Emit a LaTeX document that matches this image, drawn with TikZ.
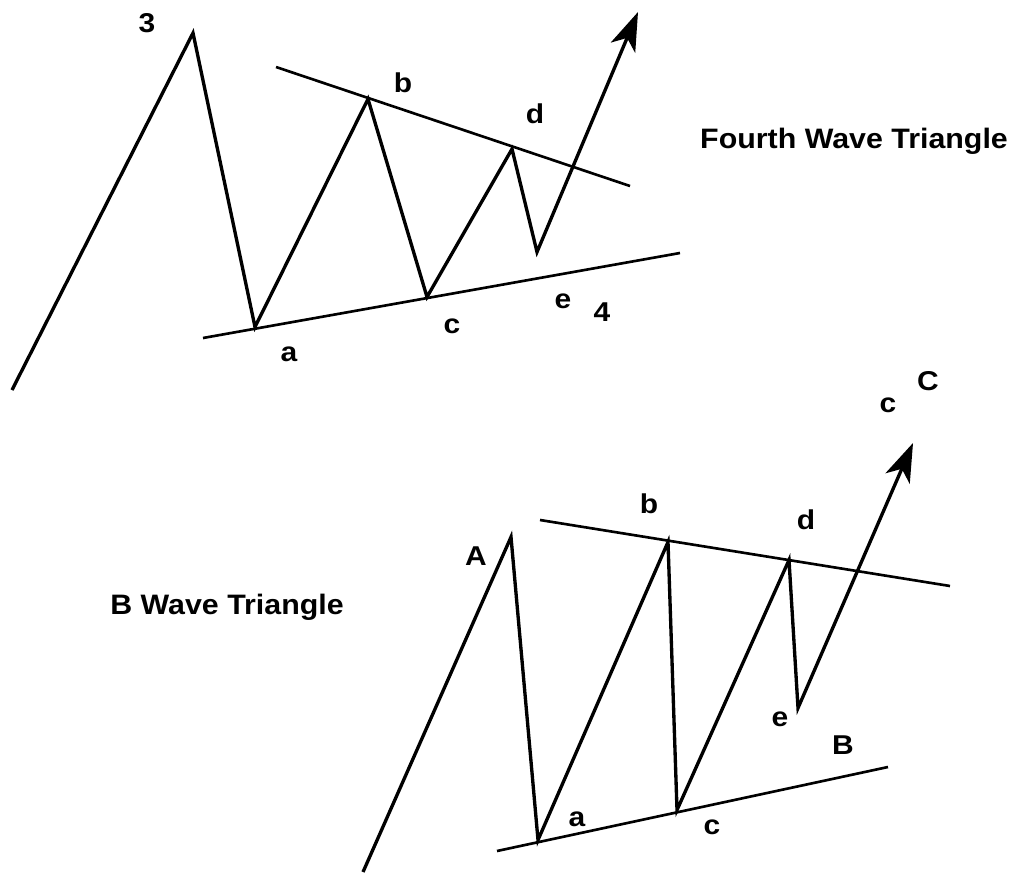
\documentclass[tikz,border=0pt]{standalone}
\usepackage{fontspec}
\setmainfont{Liberation Sans}
\usepackage{tikz}
\usetikzlibrary{arrows.meta}

\tikzset{
  wave/.style={line width=1.9pt, line join=miter},
  trend/.style={line width=1.5pt},
  lbl/.style={font=\bfseries\fontsize{15.5}{18}\selectfont, xscale=1.1, transform shape, inner sep=0pt},
  title/.style={font=\bfseries\fontsize{16}{19}\selectfont, xscale=1.08, transform shape, inner sep=0pt}
}

\begin{document}
\begin{tikzpicture}[x=0.02cm, y=-0.02cm]

  \useasboundingbox (0, 0) rectangle (1023, 872);

  % fourth wave triangle
  \coordinate (s1) at (12, 390);
  \coordinate (p3) at (193, 33);
  \coordinate (a1) at (255, 327);
  \coordinate (b1) at (368, 99);
  \coordinate (c1) at (427, 297);
  \coordinate (d1) at (512, 149);
  \coordinate (e1) at (537, 252);
  \coordinate (t1) at (638, 12);

  \draw[trend] (276, 67) -- (630, 186);
  \draw[trend] (203, 338) -- (680, 253);
  \draw[wave, -{Stealth[length=22pt, width=15pt, inset=6pt]}]
    (s1) -- (p3) -- (a1) -- (b1) -- (c1) -- (d1) -- (e1) -- (t1);

  \node[lbl] (l3) at (147, 23) {3};
  \node[lbl] (lb1) at (403, 83) {b};
  \node[lbl] (ld1) at (535, 114) {d};
  \node[lbl] (la1) at (289, 354) {a};
  \node[lbl] (lc1) at (452, 326) {c};
  \node[lbl] (le1) at (563, 301) {e};
  \node[lbl] (l4) at (602, 312) {4};
  \node[title] (fourth) at (854, 141) {Fourth Wave Triangle};

  % b wave triangle
  \coordinate (s2) at (363, 872);
  \coordinate (pA) at (511, 537);
  \coordinate (a2) at (538, 840);
  \coordinate (b2) at (668, 542);
  \coordinate (c2) at (677, 810);
  \coordinate (d2) at (789, 560);
  \coordinate (e2) at (798, 708);
  \coordinate (t2) at (913, 443);

  \draw[trend] (540, 520) -- (950, 586);
  \draw[trend] (497, 851) -- (888, 767);
  \draw[wave, -{Stealth[length=22pt, width=15pt, inset=6pt]}]
    (s2) -- (pA) -- (a2) -- (b2) -- (c2) -- (d2) -- (e2) -- (t2);

  \node[lbl] (lA) at (476, 556) {A};
  \node[lbl] (lb2) at (649, 504) {b};
  \node[lbl] (ld2) at (806, 520) {d};
  \node[lbl] (la2) at (577, 819) {a};
  \node[lbl] (lc2) at (712, 827) {c};
  \node[lbl] (le2) at (780, 719) {e};
  \node[lbl] (lB) at (843, 745) {B};
  \node[lbl] (lc3) at (888, 405) {c};
  \node[lbl] (lC) at (928, 381) {C};
  \node[title] (bwave) at (227, 607) {B Wave Triangle};

\end{tikzpicture}
\end{document}
